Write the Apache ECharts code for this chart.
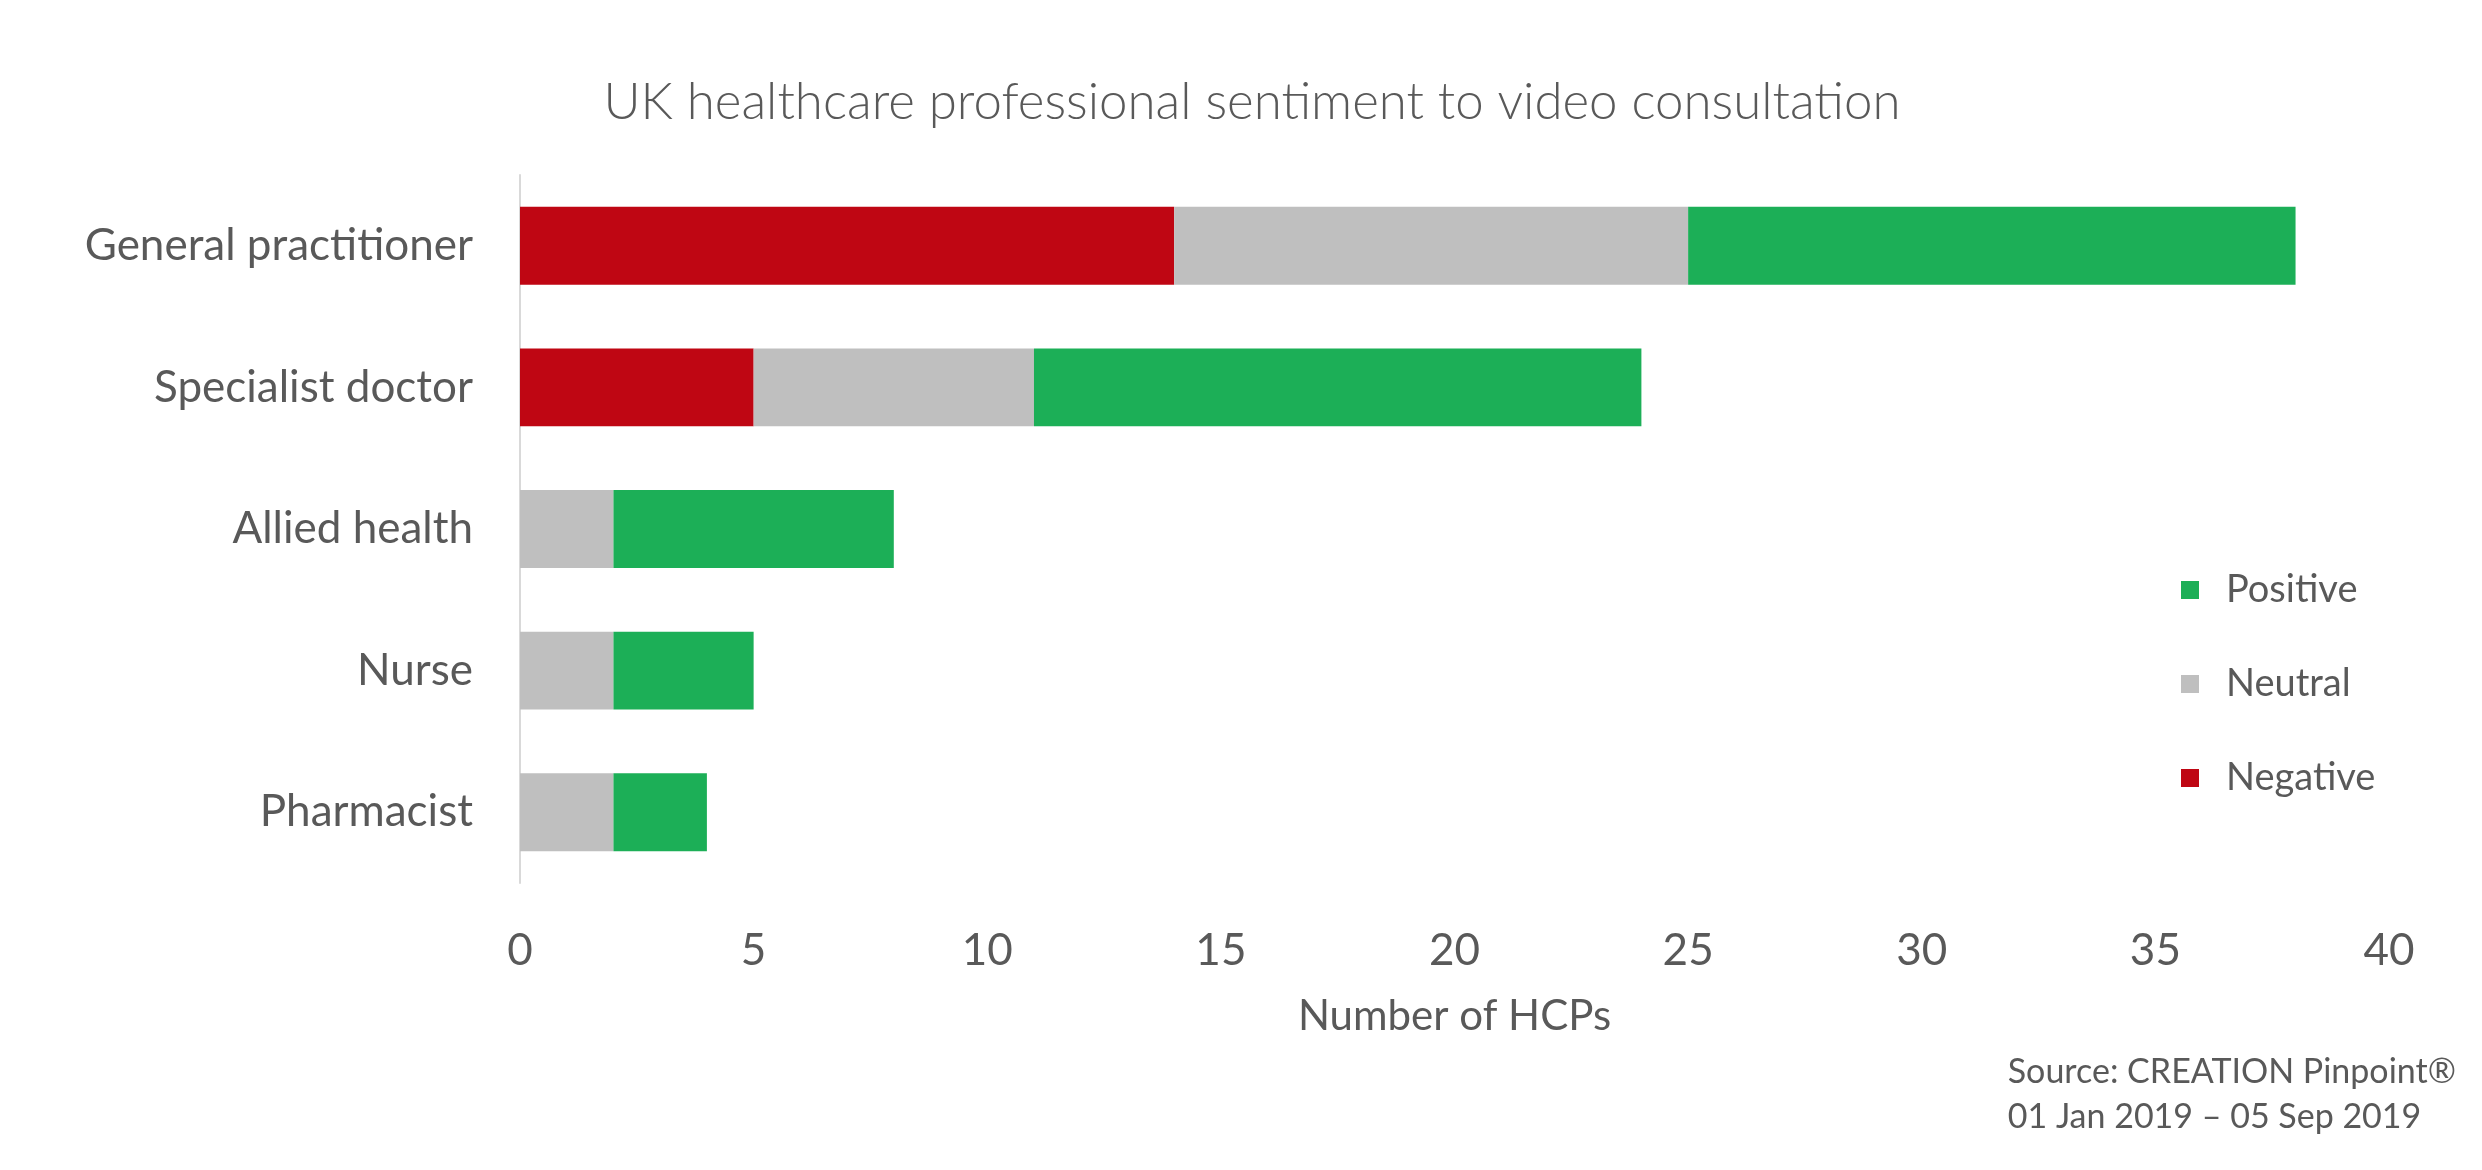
<!DOCTYPE html>
<html>
<head>
<meta charset="utf-8">
<title>UK healthcare professional sentiment to video consultation</title>
<script src="https://cdn.jsdelivr.net/npm/echarts@6/dist/echarts.min.js"></script>
<style>
  html, body { margin: 0; padding: 0; background: #fff; }
  #chart { width: 2482px; height: 1170px; }
</style>
</head>
<body>
<div id="chart"></div>
<script>
// 数据
var categories = ['General practitioner', 'Specialist doctor', 'Allied health', 'Nurse', 'Pharmacist'];
var negative = [14, 5, 0, 0, 0];
var neutral = [11, 6, 2, 2, 2];
var positive = [13, 13, 6, 3, 2];
var legendOrder = ['Positive', 'Neutral', 'Negative'];
var xTicks = [0, 5, 10, 15, 20, 25, 30, 35, 40];

var textColor = '#595959';
var fontFamily = 'Lato, "Open Sans", sans-serif';

var mychart = echarts.init(document.getElementById('chart'));

function barSeries(name, data, color) {
  return {
    name: name,
    type: 'bar',
    stack: 'total',
    barWidth: '55%',
    data: data,
    itemStyle: { color: color },
    emphasis: { disabled: true }
  };
}

var option = {
  backgroundColor: '#fff',
  animation: false,
  textStyle: { fontFamily: fontFamily, color: textColor },
  title: {
    text: 'UK healthcare professional sentiment to video consultation',
    left: 1247,
    top: 72,
    textAlign: 'center',
    textStyle: {
      fontFamily: fontFamily,
      fontWeight: 300,
      fontSize: 51,
      color: textColor
    }
  },
  legend: {
    data: legendOrder,
    orient: 'vertical',
    left: 2176,
    top: 566,
    icon: 'rect',
    itemWidth: 18,
    itemHeight: 18,
    itemGap: 56,
    selectedMode: false,
    textStyle: {
      fontFamily: fontFamily,
      fontSize: 38,
      lineHeight: 38,
      color: textColor,
      padding: [0, 0, 0, 22]
    }
  },
  grid: {
    left: 520,
    right: 93,
    top: 175,
    bottom: 287,
    containLabel: false
  },
  xAxis: {
    type: 'value',
    min: xTicks[0],
    max: xTicks[xTicks.length - 1],
    interval: xTicks[1] - xTicks[0],
    name: 'Number of HCPs',
    nameLocation: 'middle',
    nameGap: 112,
    nameTextStyle: { fontFamily: fontFamily, fontSize: 42, color: textColor },
    axisLine: { show: false },
    axisTick: { show: false },
    splitLine: { show: false },
    axisLabel: { fontFamily: fontFamily, fontSize: 44, color: textColor, margin: 46 }
  },
  yAxis: {
    type: 'category',
    inverse: true,
    data: categories,
    axisLine: { show: true, lineStyle: { color: '#D9D9D9', width: 2 } },
    axisTick: { show: false },
    axisLabel: { fontFamily: fontFamily, fontSize: 44, color: textColor, margin: 47 }
  },
  graphic: [{
    type: 'text',
    right: 26,
    top: 1050,
    style: {
      text: 'Source: CREATION Pinpoint®\n01 Jan 2019 – 05 Sep 2019',
      fontFamily: fontFamily,
      fontSize: 34,
      lineHeight: 45,
      fill: textColor,
      align: 'right'
    }
  }],
  series: [
    barSeries('Negative', negative, '#BF0613'),
    barSeries('Neutral', neutral, '#BFBFBF'),
    barSeries('Positive', positive, '#1CAF57')
  ]
};
mychart.setOption(option);
</script>
</body>
</html>
